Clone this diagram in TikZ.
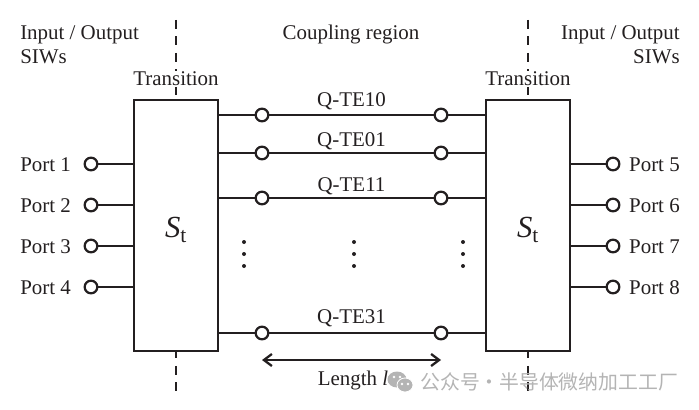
\documentclass[tikz,border=0pt]{standalone}
\usepackage{fontspec}
\setmainfont{Liberation Serif}
\newfontfamily\cjk{Noto Sans CJK SC}
\usetikzlibrary{positioning}
\usetikzlibrary{calc}
\usetikzlibrary{arrows.meta}
\definecolor{ink}{HTML}{231F20}
\definecolor{stampgray}{HTML}{B4B4B4}
\tikzstyle{object}=[line width=1.7pt, draw=ink]
\tikzstyle{block}=[object, fill=white, minimum width=63pt, minimum height=188.25pt, inner sep=0pt]
\tikzstyle{terminal}=[object, circle, fill=white, minimum size=9.5pt, inner sep=0pt]
\tikzstyle{caption}=[text=ink, inner sep=0pt, font=\fontsize{15.7}{18}\selectfont]
\tikzstyle{boundary}=[object, dash pattern=on 6.75pt off 5.6pt]
\tikzstyle{ellipsis}=[circle, fill=ink, minimum size=3pt, inner sep=0pt]

\begin{document}
\begin{tikzpicture}[x=0.75pt, y=-0.75pt]
  \useasboundingbox (0, 0) rectangle (699, 410);
  \draw[boundary] (176, 20) coordinate (topL) to (176, 394) coordinate (botL);
  \draw[boundary] (528, 20) coordinate (topR) to (528, 394) coordinate (botR);

  \node[block] (stL) at (176, 225.5) {};
  \node[block] (stR) at (528, 225.5) {};
  \node[caption, font=\fontsize{23}{26}\selectfont] (nameL) at (176, 230) {\textit{S}\textsubscript{t}};
  \node[caption, font=\fontsize{23}{26}\selectfont] (nameR) at (528, 230) {\textit{S}\textsubscript{t}};

  \node[caption, fill=white, inner ysep=1pt] (transL) at (176, 79) {Transition};
  \node[caption, fill=white, inner ysep=1pt] (transR) at (528, 79) {Transition};

  \node[caption, anchor=base west] (ioL) at (20, 40) {Input / Output};
  \node[caption, anchor=base west] (siwL) at (20, 64) {SIWs};
  \node[caption, anchor=base east] (ioR) at (680, 40) {Input / Output};
  \node[caption, anchor=base east] (siwR) at (680, 64) {SIWs};
  \node[caption, anchor=base] (region) at (351, 40) {Coupling region};

  % ports
  \foreach \n/\y in {1/164, 2/205, 3/246, 4/287} {
    \node[terminal] (portL\n) at (91, \y) {};
    \node[caption, anchor=base west] (textL\n) at (20, \y+7.5) {Port \n};
    \draw[object] (portL\n) -- (stL.west |- portL\n);
  }
  \foreach \n/\m/\y in {1/5/164, 2/6/205, 3/7/246, 4/8/287} {
    \node[terminal] (portR\n) at (613, \y) {};
    \node[caption, anchor=base east] (textR\n) at (680, \y+7.5) {Port \m};
    \draw[object] (stR.east |- portR\n) -- (portR\n);
  }

  % modes
  \foreach \n/\y/\g/\t in {a/115/3.8/Q-TE10, b/153/2.3/Q-TE01, c/198/2.3/Q-TE11, d/333/4.5/Q-TE31} {
    \node[terminal] (in\n) at (262, \y) {};
    \node[terminal] (out\n) at (441, \y) {};
    \draw[object] (stL.east |- in\n) -- (in\n) -- (out\n) -- (stR.west |- out\n);
    \node[caption, above=\g pt of $(in\n)!0.5!(out\n)$] (mode\n) {\t};
  }

  \foreach \x/\n in {244/a, 354/b, 463/c} {
    \node[ellipsis] (dots\n1) at (\x, 242) {};
    \node[ellipsis] (dots\n2) at (\x, 254) {};
    \node[ellipsis] (dots\n3) at (\x, 266) {};
  }

  \coordinate (lengthY) at (0, 360);
  \draw[object, <->, >={Straight Barb[length=6pt, width=9pt]}] (inb |- lengthY) -- (outb |- lengthY);
  \node[caption, anchor=base] (length) at (353, 385) {Length \textit{l}};

  % watermark
  \node[text=stampgray, anchor=base west, inner sep=0pt, font=\cjk\fontsize{14.9}{16}\selectfont] (stamp) at (420, 389) {公众号 \hspace{-3.5pt}· \hspace{-3.5pt}半导体微纳加工工厂};
  \fill[stampgray] (397, 379.5) ellipse (9.5 and 8);
  \fill[stampgray, draw=white, line width=0.6pt] (405, 385) ellipse (8 and 7);
  \foreach \x/\y in {394/377, 400/377, 402/384, 408/384} {
    \fill[white] (\x, \y) circle (1.3);
  }
\end{tikzpicture}
\end{document}
